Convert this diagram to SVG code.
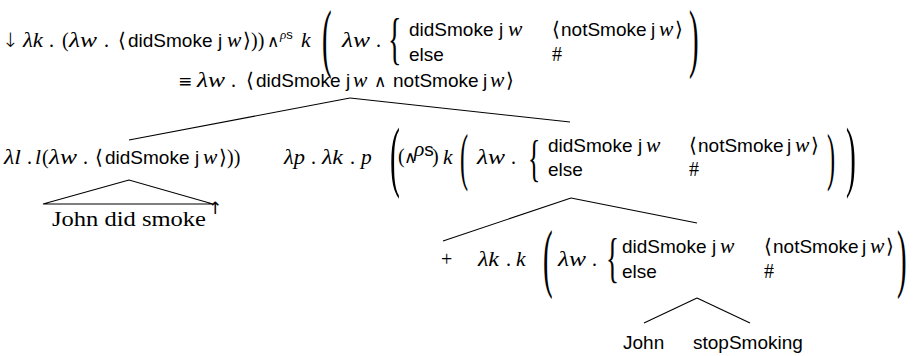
<svg xmlns="http://www.w3.org/2000/svg" width="917" height="356" viewBox="0 0 917 356">
<style>
text{fill:#000}
.m{font-family:"Liberation Serif",serif;font-style:italic;font-size:21.5px}
.s{font-family:"Liberation Sans",sans-serif;font-size:19px}
.r{font-family:"Liberation Serif",serif;font-size:20px}
.y{font-family:"DejaVu Sans",sans-serif;font-size:17px}
.a{font-family:"DejaVu Sans",sans-serif;font-size:20px;font-weight:300}
.sup{font-size:13px}
.bg{font-family:"Liberation Serif",serif}
.c line{stroke:#000;stroke-width:1.1;fill:none}
</style>
<rect width="917" height="356" fill="#fff"/>
<g id="root">
<text class="a" x="2" y="47">↓</text>
<text class="m" x="23" y="47" textLength="20" lengthAdjust="spacingAndGlyphs">λk</text>
<text class="r" x="49" y="47">.</text>
<text class="r" x="62" y="47">(</text>
<text class="m" x="69" y="47" textLength="28" lengthAdjust="spacingAndGlyphs">λw</text>
<text class="r" x="104" y="47">.</text>
<text class="a" x="118" y="47">⟨</text>
<text class="s" x="128" y="47">didSmoke</text>
<text class="s" x="218" y="47">j</text>
<text class="m" x="227" y="47">w</text>
<text class="a" x="243" y="47">⟩</text>
<text class="r" x="251" y="47">))</text>
<text class="y" x="267" y="47">∧</text>
<text x="280" y="39"><tspan class="m sup">ρ</tspan><tspan class="s sup">s</tspan></text>
<text class="m" x="301" y="47">k</text>
<text class="bg" transform="translate(322,63) scale(0.38,1)" font-size="76">(</text>
<text class="m" x="342" y="47" textLength="28" lengthAdjust="spacingAndGlyphs">λw</text>
<text class="r" x="376" y="47">.</text>
<text class="bg" transform="translate(388,58) scale(0.5,1)" font-size="56">{</text>
<text class="s" x="409" y="36">didSmoke</text>
<text class="s" x="499" y="36">j</text>
<text class="m" x="508" y="36">w</text>
<text class="a" x="552" y="36">⟨</text>
<text class="s" x="561" y="36">notSmoke</text>
<text class="s" x="651" y="36">j</text>
<text class="m" x="659" y="36">w</text>
<text class="a" x="675" y="36">⟩</text>
<text class="s" x="409" y="61">else</text>
<text class="r" x="552" y="61">#</text>
<text class="bg" transform="translate(689,63) scale(0.38,1)" font-size="76">)</text>
<text class="y" x="178" y="87">≡</text>
<text class="m" x="197" y="87" textLength="28" lengthAdjust="spacingAndGlyphs">λw</text>
<text class="r" x="231" y="87">.</text>
<text class="a" x="246" y="87">⟨</text>
<text class="s" x="256" y="87">didSmoke</text>
<text class="s" x="346" y="87">j</text>
<text class="m" x="353" y="87">w</text>
<text class="y" x="374" y="87">∧</text>
<text class="s" x="393" y="87">notSmoke</text>
<text class="s" x="483" y="87">j</text>
<text class="m" x="490" y="87">w</text>
<text class="a" x="506" y="87">⟩</text>
</g>
<g id="left">
<text class="m" x="4" y="164" textLength="17" lengthAdjust="spacingAndGlyphs">λl</text>
<text class="r" x="27" y="164">.</text>
<text class="m" x="35" y="164">l</text>
<text class="r" x="42" y="164">(</text>
<text class="m" x="49" y="164" textLength="28" lengthAdjust="spacingAndGlyphs">λw</text>
<text class="r" x="83" y="164">.</text>
<text class="a" x="95" y="164">⟨</text>
<text class="s" x="105" y="164">didSmoke</text>
<text class="s" x="195" y="164">j</text>
<text class="m" x="203" y="164">w</text>
<text class="a" x="219" y="164">⟩</text>
<text class="r" x="227" y="164">))</text>
</g>
<g id="leftleaf">
<path d="M129,180 L43,204 L213,204 Z" fill="none" stroke="#000" stroke-width="1.1"/>
<text class="r" x="52" y="226" font-size="21" textLength="154" lengthAdjust="spacingAndGlyphs">John did smoke</text>
<text class="y" x="208" y="214" font-size="11">↑</text>
</g>
<g id="mid">
<text class="m" x="284" y="164" textLength="21" lengthAdjust="spacingAndGlyphs">λp</text>
<text class="r" x="311" y="164">.</text>
<text class="m" x="322" y="164" textLength="21" lengthAdjust="spacingAndGlyphs">λk</text>
<text class="r" x="350" y="164">.</text>
<text class="m" x="361" y="164">p</text>
<text class="bg" transform="translate(390,182) scale(0.38,1)" font-size="78">(</text>
<text class="r" x="398" y="163" font-size="14">(</text>
<text class="y" x="404" y="163" font-size="11">∧</text>
<text x="414" y="156"><tspan class="m" font-size="10">ρ</tspan><tspan class="s" font-size="10">s</tspan></text>
<text class="r" x="432" y="163" font-size="14">)</text>
<text class="m" x="443" y="164">k</text>
<text class="bg" transform="translate(460,178) scale(0.38,1)" font-size="64">(</text>
<text class="m" x="477" y="164" textLength="28" lengthAdjust="spacingAndGlyphs">λw</text>
<text class="r" x="511" y="164">.</text>
<text class="bg" transform="translate(528,175) scale(0.5,1)" font-size="51">{</text>
<text class="s" x="548" y="152">didSmoke</text>
<text class="s" x="638" y="152">j</text>
<text class="m" x="646" y="152">w</text>
<text class="a" x="689" y="152">⟨</text>
<text class="s" x="698" y="152">notSmoke</text>
<text class="s" x="787" y="152">j</text>
<text class="m" x="795" y="152">w</text>
<text class="a" x="811" y="152">⟩</text>
<text class="s" x="548" y="176">else</text>
<text class="r" x="689" y="176">#</text>
<text class="bg" transform="translate(827,178) scale(0.38,1)" font-size="64">)</text>
<text class="bg" transform="translate(846,182) scale(0.38,1)" font-size="78">)</text>
</g>
<g id="plus">
<text class="r" x="441" y="266">+</text>
</g>
<g id="right">
<text class="m" x="478" y="266" textLength="21" lengthAdjust="spacingAndGlyphs">λk</text>
<text class="r" x="506" y="266">.</text>
<text class="m" x="516" y="266">k</text>
<text class="bg" transform="translate(543,283) scale(0.38,1)" font-size="76">(</text>
<text class="m" x="558" y="266" textLength="28" lengthAdjust="spacingAndGlyphs">λw</text>
<text class="r" x="592" y="266">.</text>
<text class="bg" transform="translate(606,276) scale(0.5,1)" font-size="54">{</text>
<text class="s" x="622" y="253">didSmoke</text>
<text class="s" x="712" y="253">j</text>
<text class="m" x="720" y="253">w</text>
<text class="a" x="764" y="253">⟨</text>
<text class="s" x="773" y="253">notSmoke</text>
<text class="s" x="862" y="253">j</text>
<text class="m" x="870" y="253">w</text>
<text class="a" x="886" y="253">⟩</text>
<text class="s" x="622" y="278">else</text>
<text class="r" x="764" y="278">#</text>
<text class="bg" transform="translate(897,283) scale(0.38,1)" font-size="76">)</text>
</g>
<g id="john"><text class="s" x="623" y="349">John</text></g>
<g id="stop"><text class="s" x="693" y="349">stopSmoking</text></g>
<g id="connectors" class="c">
<line x1="350" y1="98" x2="129" y2="140"/>
<line x1="350" y1="98" x2="570" y2="122"/>
<line x1="571" y1="198" x2="443" y2="241"/>
<line x1="571" y1="198" x2="697" y2="223"/>
<line x1="697" y1="298" x2="644" y2="323"/>
<line x1="697" y1="298" x2="750" y2="323"/>
</g>
</svg>
